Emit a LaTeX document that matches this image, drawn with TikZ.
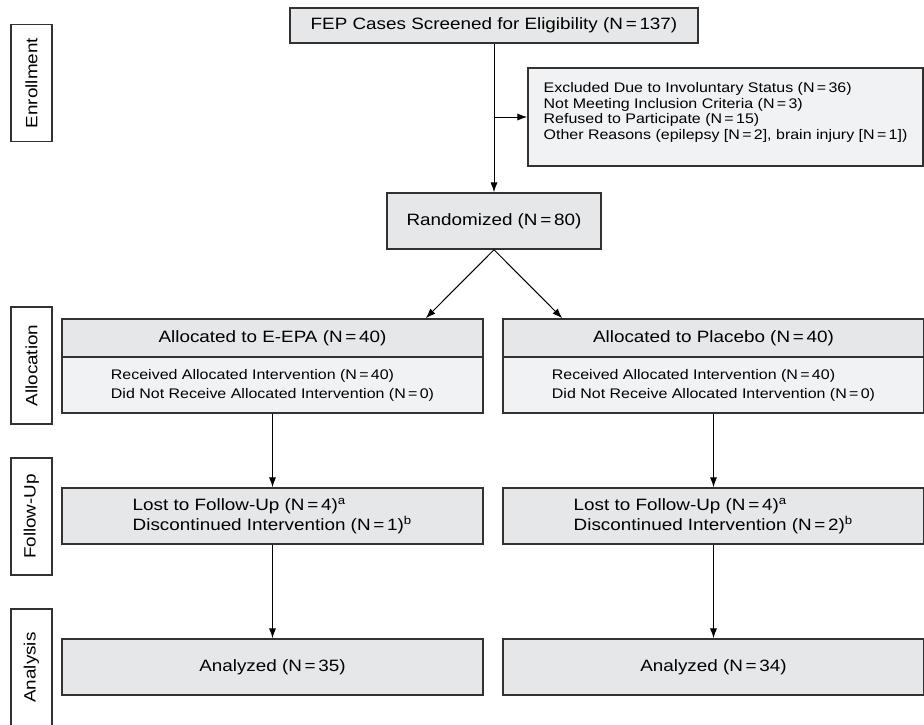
\documentclass[tikz,border=0pt]{standalone}
\usepackage{fontspec}
\setmainfont[FakeStretch=1.15]{Liberation Sans}
\usetikzlibrary{arrows.meta}
\usetikzlibrary{positioning}
\usetikzlibrary{calc}
\definecolor{boxgray}{RGB}{230,231,232}
\definecolor{palegray}{RGB}{241,242,243}
\definecolor{linegray}{RGB}{50,50,50}

\begin{document}
\begin{tikzpicture}[x=0.5pt,y=-0.5pt,
	box/.style={draw=linegray,line width=0.75pt,fill=boxgray,inner sep=0pt,font=\fontsize{8.2}{10}\selectfont},
	subbox/.style={box,fill=palegray,align=left,font=\fontsize{6.95}{9.6}\selectfont},
	stage/.style={draw=linegray,line width=0.6pt,fill=white,rotate=90,inner sep=0pt,minimum width=58.5pt,minimum height=20.5pt,font=\fontsize{8.2}{10}\selectfont},
	arr/.style={-{Latex[length=5pt,width=3.6pt]},line width=0.5pt}]
	\useasboundingbox (0,0) rectangle (924,724);
	% stages
	\node[stage](enrol) at (31.5,83){Enrollment};
	\node[stage](alloc) at (31.5,365.5){Allocation};
	\node[stage](follow) at (31.5,516.5){Follow-Up};
	\node[stage](analys) at (31.5,667.5){Analysis};
	% enrollment
	\node[box,minimum width=204pt,minimum height=17.5pt](screen) at (494,25.5){FEP Cases Screened for Eligibility (N\,=\,137)};
	\node[subbox,font=\fontsize{6.95}{7.8}\selectfont,text depth=6pt,minimum width=197.5pt,minimum height=49pt](excl) at (725.5,117){Excluded Due to Involuntary Status (N\,=\,36)\\Not Meeting Inclusion Criteria (N\,=\,3)\\Refused to Participate (N\,=\,15)\\Other Reasons (epilepsy [N\,=\,2], brain injury [N\,=\,1])};
	\node[box,minimum width=107pt,minimum height=28pt](rand) at (494,221){Randomized (N\,=\,80)};
	% allocation
	\node[box,minimum width=210.5pt,minimum height=19pt](epaHead) at (272.5,338){Allocated to E-EPA (N\,=\,40)};
	\node[subbox,minimum width=210.5pt,minimum height=28pt](epaBody) at (272.5,385){Received Allocated Intervention (N\,=\,40)\\Did Not Receive Allocated Intervention (N\,=\,0)};
	\node[box,minimum width=210.5pt,minimum height=19pt](plcHead) at (713.5,338){Allocated to Placebo (N\,=\,40)};
	\node[subbox,minimum width=210.5pt,minimum height=28pt](plcBody) at (713.5,385){Received Allocated Intervention (N\,=\,40)\\Did Not Receive Allocated Intervention (N\,=\,0)};
	% follow-up and analysis
	\node[box,align=left,minimum width=210.5pt,minimum height=28pt](epaFollow) at (272.5,516){Lost to Follow-Up (N\,=\,4)\textsuperscript{a}\\Discontinued Intervention (N\,=\,1)\textsuperscript{b}};
	\node[box,align=left,minimum width=210.5pt,minimum height=28pt](plcFollow) at (713.5,516){Lost to Follow-Up (N\,=\,4)\textsuperscript{a}\\Discontinued Intervention (N\,=\,2)\textsuperscript{b}};
	\node[box,minimum width=210.5pt,minimum height=28pt](epaAnal) at (272.5,667){Analyzed (N\,=\,35)};
	\node[box,minimum width=210.5pt,minimum height=28pt](plcAnal) at (713.5,667){Analyzed (N\,=\,34)};
	% arrows
	\draw[arr](screen) -- (rand);
	\draw[arr](screen.south |- excl.west) -- (excl.west);
	\draw[arr](rand.south) -- ([xshift=-29pt]epaHead.north east);
	\draw[arr](rand.south) -- ([xshift=30pt]plcHead.north west);
	\draw[arr](epaBody) -- (epaFollow);
	\draw[arr](plcBody) -- (plcFollow);
	\draw[arr](epaFollow) -- (epaAnal);
	\draw[arr](plcFollow) -- (plcAnal);
\end{tikzpicture}
\end{document}
